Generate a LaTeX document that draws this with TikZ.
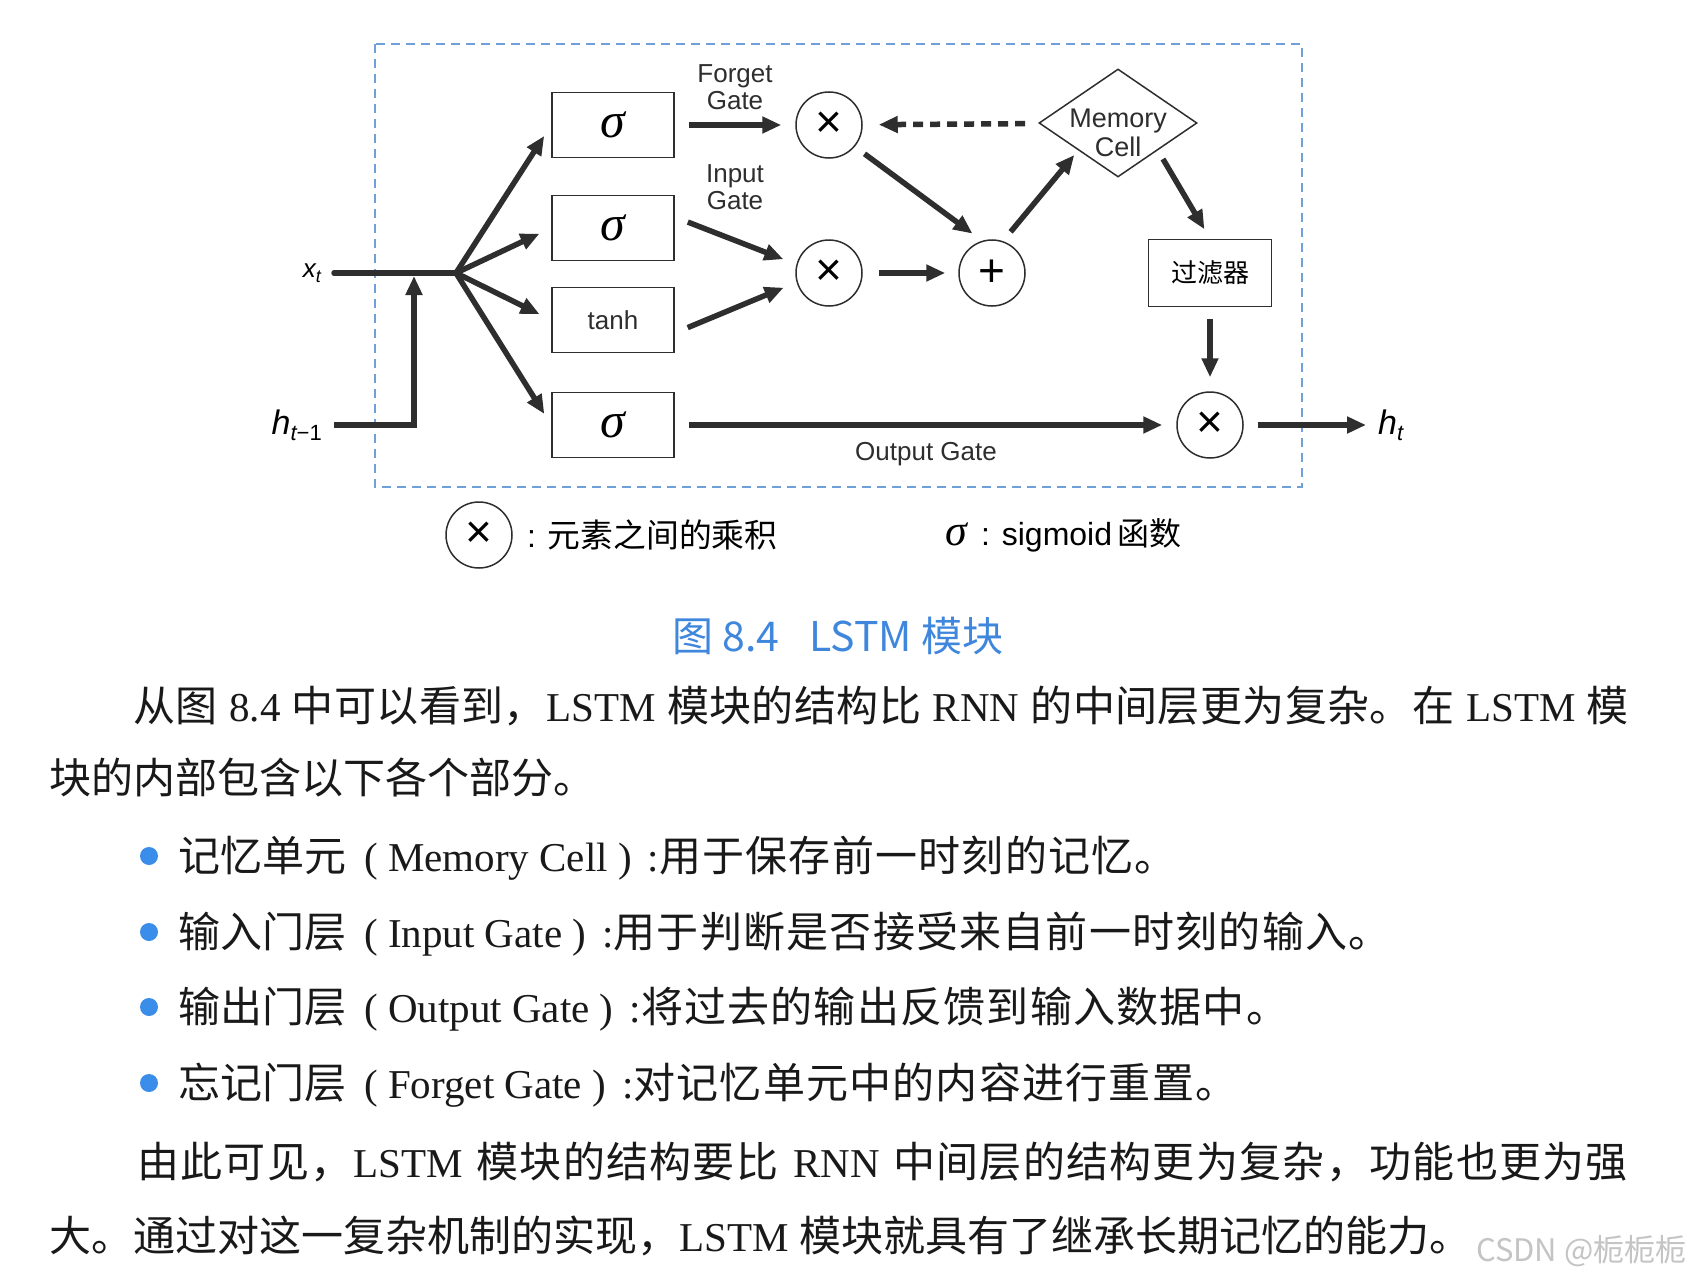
\documentclass[tikz,border=0pt]{standalone}
\usepackage{fontspec}
\setmainfont{Liberation Serif}
\newfontfamily\hei{Liberation Sans}
\newfontfamily\cjk{Noto Sans CJK SC}
\newfontfamily\cjkb{Noto Sans CJK SC}[Scale=1.025]
\usetikzlibrary{arrows.meta,shapes.geometric,positioning}
\definecolor{linec}{HTML}{2E2E2E}
\definecolor{boxblue}{HTML}{6FA0D8}
\definecolor{capblue}{HTML}{3F86DD}
\definecolor{dotblue}{HTML}{3A8EEA}
\definecolor{wmgray}{HTML}{C4C4C4}
\newcommand{\zh}[1]{{\cjkb #1}}
\def\zsend{\zsend}
\def\zsloop#1{\ifx#1\zsend\else#1\zsgap\expandafter\zsloop\fi}
\newcommand{\zs}[1]{{\cjkb\def\zsgap{\hskip0pt plus 2pt}\zsloop#1\zsend}}
\newcommand{\zb}[1]{{\cjkb\def\zsgap{\hskip1.2pt}\zsloop#1\zsend}}
\newcommand{\sig}{{\itshape σ}}
\begin{document}
\begin{tikzpicture}[x=1pt,y=-1pt,
  gatebox/.style={draw=linec,line width=1.5pt,minimum width=122pt,minimum height=65pt,inner sep=0pt},
  sgm/.style={gatebox,font=\fontsize{50}{50}\selectfont},
  op/.style={circle,draw=linec,line width=1.5pt,minimum size=66pt,inner sep=0pt,font=\hei\fontsize{46}{46}\selectfont},
  arr/.style={draw=linec,line width=5.5pt,-{Triangle[length=19pt,width=16pt]},shorten <=14pt,shorten >=14pt},
  lbl/.style={font=\hei\fontsize{26}{27}\selectfont,align=center,inner sep=0pt,text=linec},
  body/.style={anchor=base west,inner sep=0pt,text=black!90,font=\fontsize{41}{41}\selectfont}]
\useasboundingbox[fill=white] (0,0) rectangle (1695,1279);
\draw[boxblue,line width=2.5pt,dash pattern=on 9pt off 6pt] (375,44) rectangle (1302,487);
% gates
\node[sgm] (s1) at (613,125) {\sig};
\node[sgm] (s2) at (613,228) {\sig};
\node[gatebox,lbl,inner sep=0pt] (tanh) at (613,320) {tanh};
\node[sgm] (s4) at (613,425) {\sig};
\node[op] (x1) at (829,125) {×};
\node[op] (x2) at (829,273) {×};
\node[op] (plus) at (992,273) {+};
\node[op] (x3) at (1210,425) {×};
\node[diamond,draw=linec,line width=1.5pt,minimum width=158pt,minimum height=108pt,inner sep=0pt] (mem) at (1118,123) {};
\node[lbl,font=\hei\fontsize{27}{29}\selectfont] (memtxt) at (1118,133) {Memory\\Cell};
\node[gatebox,minimum width=123pt,minimum height=67pt,font=\cjk\fontsize{26}{26}\selectfont] (filt) at (1210,273) {过滤器};
\node[lbl] (fg) at (735,87) {Forget\\Gate};
\node[lbl] (ig) at (735,187) {Input\\Gate};
\node[lbl] (og) at (926,454) {Output Gate};
% inputs and output
\node[anchor=east,inner xsep=13pt,inner ysep=0pt,font=\hei\fontsize{26}{26}\selectfont] (xt) at (334,273) {\itshape x\raisebox{-5pt}{\fontsize{18}{18}\selectfont t}};
\node[anchor=east,inner xsep=12pt,inner ysep=0pt,font=\hei\fontsize{34}{34}\selectfont] (hprev) at (334,425) {\itshape h\raisebox{-6pt}{\fontsize{22}{22}\selectfont t\upshape −1}};
\node[anchor=west,inner xsep=12pt,inner ysep=0pt,font=\hei\fontsize{34}{34}\selectfont] (ht) at (1366,425) {\itshape h\raisebox{-6pt}{\fontsize{22}{22}\selectfont t}};
\coordinate (br) at (456,273);
\coordinate (jn) at (414,273);
\draw[draw=linec,line width=5.5pt,line cap=round] (xt.east) -- (br);
\draw[arr,shorten <=0pt,shorten >=3pt] (hprev.east) -| (jn);
\foreach \b in {s1,s2,tanh,s4} \draw[arr,shorten <=0pt,shorten >=13pt,line cap=round] (br) -- (\b.west);
\draw[arr] (s1) -- (x1);
\draw[arr] ([yshift=11pt]s2.east) -- (x2.165);
\draw[arr] ([yshift=-13pt]tanh.east) -- (x2.-164);
\draw[arr,shorten <=12pt,shorten >=12pt] (x1.-40) -- (plus.107);
\draw[arr,shorten <=16pt,shorten >=13pt] (x2) -- (plus);
\draw[arr,shorten <=12pt,shorten >=6pt] (plus.71) -- (mem.south west);
\draw[arr,shorten <=10pt,shorten >=11pt] (mem.south east) -- (filt.north);
\draw[arr,shorten <=12pt,shorten >=14pt] (filt) -- (x3);
\draw[arr] (s4) -- (x3);
\draw[arr,shorten >=0pt] (x3) -- (ht);
\draw[arr,dash pattern=on 10pt off 7pt,shorten <=14pt,shorten >=16pt] (mem) -- (x1);
% legend and caption
\node[op] (lgx) at (479,535) {×};
\node[anchor=west,inner sep=0pt,font=\hei\fontsize{32}{32}\selectfont] (lgxt) at (527,535) {: \zh{元素之间的乘积}};
\node[anchor=west,inner sep=0pt,font=\hei\fontsize{32}{32}\selectfont] (lgs) at (945,535) {{\fontsize{44}{44}\selectfont\rmfamily\sig}\, : sigmoid\,{\cjk 函数}};
\node[anchor=base,inner sep=0pt,text=capblue,font=\cjk\fontsize{41}{41}\selectfont] (cap) at (838,651) {图 8.4\hspace{30pt}LSTM 模块};
% text
\node[body] (p1a) at (133,721) {\makebox[1496pt][s]{\zs{从图} 8.4 \zs{中可以看到，}LSTM \zs{模块的结构比} RNN \zs{的中间层更为复杂。在} LSTM \zs{模}}};
\node[body] (p1b) at (49,793) {\zh{块的内部包含以下各个部分。}};
\foreach \y in {856,932,1007,1083} \fill[dotblue] (149,\y) circle (9pt);
\node[body] (b1) at (178,871) {\zh{记忆单元}\hspace{18pt}( Memory Cell )\hspace{16pt}:\zb{用于保存前一时刻的记忆。}};
\node[body] (b2) at (178,947) {\zh{输入门层}\hspace{18pt}( Input Gate )\hspace{16pt}:\zb{用于判断是否接受来自前一时刻的输入。}};
\node[body] (b3) at (178,1022) {\zh{输出门层}\hspace{18pt}( Output Gate )\hspace{16pt}:\zb{将过去的输出反馈到输入数据中。}};
\node[body] (b4) at (178,1098) {\zh{忘记门层}\hspace{18pt}( Forget Gate )\hspace{16pt}:\zb{对记忆单元中的内容进行重置。}};
\node[body] (p2a) at (137,1177) {\makebox[1492pt][s]{\zs{由此可见，}LSTM \zs{模块的结构要比} RNN \zs{中间层的结构更为复杂，功能也更为强}}};
\node[body] (p2b) at (49,1251) {\zh{大。通过对这一复杂机制的实现，}LSTM \zh{模块就具有了继承长期记忆的能力。}};
\node[anchor=base west,inner sep=0pt,text=wmgray,font=\cjk\fontsize{31}{31}\selectfont] (wm) at (1476,1261) {CSDN @栀栀栀};
\end{tikzpicture}
\end{document}
